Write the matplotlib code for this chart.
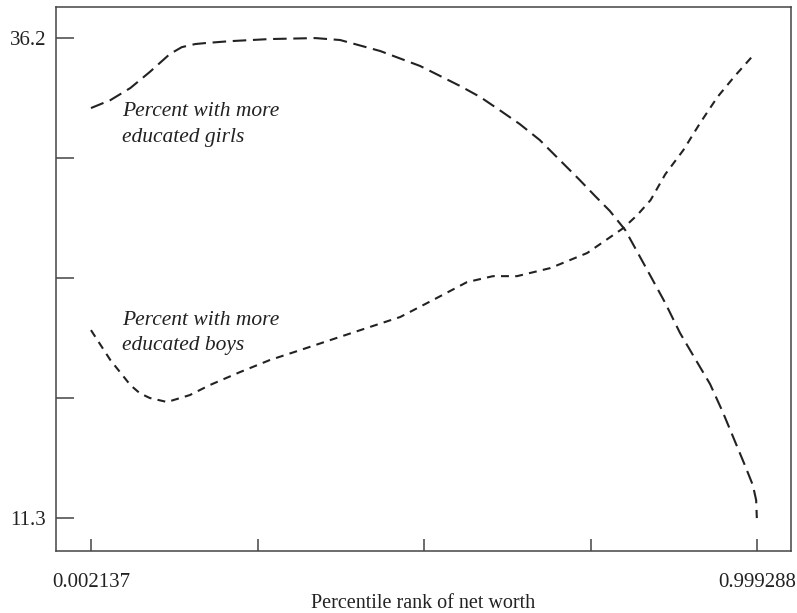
import matplotlib
matplotlib.use("Agg")
import matplotlib.pyplot as plt

plt.rcParams['font.family'] = ['Liberation Serif', 'DejaVu Serif']

# values
girls_x = [0.002, 0.031, 0.061, 0.090, 0.120, 0.138, 0.158, 0.173, 0.210, 0.270,
           0.338, 0.375, 0.435, 0.495, 0.525, 0.555, 0.585, 0.614, 0.644, 0.674,
           0.704, 0.734, 0.757, 0.779, 0.802, 0.839, 0.862, 0.884, 0.906, 0.929,
           0.948, 0.966, 0.981, 0.993, 0.998, 0.999]
girls_y = [32.57, 32.98, 33.61, 34.44, 35.37, 35.73, 35.89, 35.94, 36.04, 36.15,
           36.20, 36.10, 35.53, 34.75, 34.23, 33.71, 33.14, 32.46, 31.74, 30.91,
           29.87, 28.83, 28.00, 27.23, 26.24, 23.91, 22.45, 20.90, 19.60, 18.25,
           16.80, 15.30, 14.05, 13.01, 12.23, 11.30]

boys_x = [0.002, 0.031, 0.061, 0.075, 0.090, 0.116, 0.150, 0.180, 0.225, 0.270,
          0.315, 0.360, 0.415, 0.465, 0.514, 0.565, 0.604, 0.640, 0.690, 0.745,
          0.799, 0.820, 0.840, 0.862, 0.889, 0.914, 0.940, 0.966, 0.994]
boys_y = [21.05, 19.50, 18.20, 17.78, 17.53, 17.32, 17.68, 18.20, 18.87, 19.50,
          20.01, 20.53, 21.16, 21.73, 22.61, 23.54, 23.85, 23.85, 24.27, 25.05,
          26.34, 27.02, 27.80, 29.14, 30.39, 31.79, 33.14, 34.23, 35.32]

x_ticks = [0.002137, 0.251425, 0.500712, 0.750000, 0.999288]
x_ticklabels = ['0.002137', '', '', '', '0.999288']
y_ticks = [11.3, 17.525, 23.75, 29.975, 36.2]
y_ticklabels = ['11.3', '', '', '', '36.2']

fig = plt.figure(figsize=(7.97, 6.13), dpi=100)
ax = fig.add_axes([0.0703, 0.1011, 0.9222, 0.8874])

ink = '#222222'
ax.plot(girls_x, girls_y, color=ink, lw=1.5, dashes=(6.5, 3.2))
ax.plot(boys_x, boys_y, color=ink, lw=1.5, dashes=(3.8, 3.0))

ax.set_xlim(-0.0503, 1.0502)
ax.set_ylim(9.59, 37.81)
ax.set_xticks(x_ticks)
ax.set_xticklabels(x_ticklabels)
ax.set_yticks(y_ticks)
ax.set_yticklabels(y_ticklabels)

ax.tick_params(axis='y', direction='in', length=13, width=1.1, color='#444444',
               labelsize=15, pad=7, labelcolor=ink)
ax.tick_params(axis='x', direction='in', length=8.5, width=1.1, color='#444444',
               labelsize=15, pad=16, labelcolor=ink)
for s in ax.spines.values():
    s.set_color('#444444')
    s.set_linewidth(1.1)

ax.set_xlabel('Percentile rank of net worth', fontsize=14.5, color=ink, labelpad=1)

lab = dict(fontsize=15.5, style='italic', color=ink, ha='left', va='baseline')
ax.text(0.0485, 32.15, 'Percent with more', **lab)
ax.text(0.0485, 30.80, 'educated girls', **lab)
ax.text(0.0485, 21.31, 'Percent with more', **lab)
ax.text(0.0485, 20.02, 'educated boys', **lab)

fig.savefig('out.png', dpi=100)
